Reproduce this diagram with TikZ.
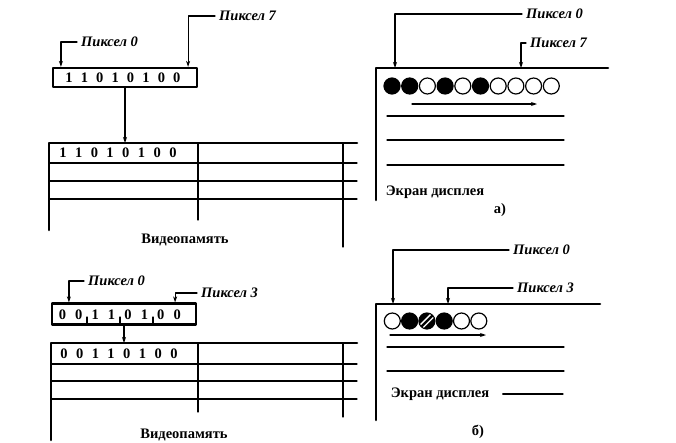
\documentclass[tikz,border=0pt]{standalone}
\usepackage{fontspec}
\setmainfont{Liberation Serif}
\usetikzlibrary{arrows.meta}

\begin{document}
\begin{tikzpicture}[x=1pt, y=-1pt, line cap=round, line join=round, >={Stealth[length=6pt,width=4pt]},
  lbl/.style={font=\fontsize{14.5}{16}\selectfont\bfseries\itshape, inner sep=4pt, anchor=west},
  bit/.style={font=\fontsize{14.5}{16}\selectfont\bfseries, inner sep=0pt},
  regbox/.style={draw, line width=2.2pt, minimum width=144pt, minimum height=19pt, inner sep=0pt},
  wall/.style={line width=2.6pt},
  rule/.style={line width=1.2pt},
  caption/.style={font=\fontsize{14.5}{16}\selectfont\bfseries},
  pix/.style={draw, line width=1.2pt, circle, minimum size=16pt, inner sep=0pt}]
  \useasboundingbox (0,0) rectangle (676,442);

  % a) register byte
  \node[regbox] (rega) at (125,77.5) {};
  \foreach \b [count=\i] in {1,1,0,1,0,1,0,0}
    \node[bit] at ({53.6+15.4*\i},78) {\b};
  \node[lbl] (ra0) at (77,42) {Пиксел 0};
  \node[lbl] (ra7) at (215,16) {Пиксел 7};
  \draw[->, rule] (ra0.west) -| ([xshift=9pt]rega.north west);
  \draw[->, rule] (ra7.west) -| ([xshift=-10pt]rega.north east);

  % a) video memory
  \coordinate (mema) at (49,143);
  \draw[->, rule] (rega.south) -- (rega.south |- mema);
  \draw[wall] (49,230) -- (mema) -- (357,143);
  \draw[rule] (49,163) -- (357,163) (49,181) -- (357,181) (49,199) -- (357,199);
  \draw[rule] (198,143) -- (198,220) (343,143) -- (343,247);
  \foreach \b [count=\i] in {1,1,0,1,0,1,0,0}
    \node[bit] at ({47.3+15.7*\i},153) {\b};
  \node[caption] (capma) at (185,240) {Видеопамять};

  % a) display
  \coordinate (scra) at (376,68);
  \draw[wall] (376,200) -- (scra) -- (608,68);
  \foreach \f [count=\i] in {black,black,white,black,white,black,white,white,white,white}
    \node[pix, fill=\f] at ({374.3+17.7*\i},86) {};
  \draw[->, rule] (412,104) -- (537,104);
  \draw[rule] (387,116) -- (564,116) (387,140) -- (564,140) (387,165) -- (564,165);
  \node[lbl] (sa0) at (522,14) {Пиксел 0};
  \node[lbl] (sa7) at (526,43) {Пиксел 7};
  \draw[->, rule] (sa0.west) -| (scra -| 395,0);
  \draw[->, rule] (sa7.west) -| (scra -| 521,0);
  \node[caption] (capsa) at (435,192) {Экран дисплея};
  \node[caption] (taga) at (500,210) {а)};

  % b) register byte, 2 bits per pixel
  \node[regbox, minimum height=21pt] (regb) at (124,314) {};
  \foreach \b [count=\i] in {0,0,1,1,0,1,0,0}
    \node[bit] at ({46+16.4*\i},315) {\b};
  \foreach \t in {87,120,153}
    \draw[rule] (\t,323.5) -- (\t,317);
  \node[lbl] (rb0) at (84,281) {Пиксел 0};
  \node[lbl] (rb3) at (197,293) {Пиксел 3};
  \draw[->, rule] (rb0.west) -| ([xshift=18pt]regb.north west);
  \draw[->, rule] (rb3.west) -| ([xshift=-22pt]regb.north east);

  % b) video memory
  \coordinate (memb) at (51,343);
  \draw[->, rule] (regb.south) -- (regb.south |- memb);
  \draw[wall] (51,440) -- (memb) -- (357,343);
  \draw[rule] (51,364) -- (357,364) (51,381) -- (357,381) (51,399) -- (357,399);
  \draw[rule] (198,343) -- (198,412) (343,343) -- (343,417);
  \foreach \b [count=\i] in {0,0,1,1,0,1,0,0}
    \node[bit] at ({48.3+15.7*\i},354) {\b};
  \node[caption] (capmb) at (184,435) {Видеопамять};

  % b) display
  \coordinate (scrb) at (376,304);
  \draw[wall] (376,420) -- (scrb) -- (600,304);
  \foreach \f [count=\i] in {white,black,black,black,white,white}
    \node[pix, fill=\f] (pb\i) at ({375+17.3*\i},321) {};
  \begin{scope}
    \clip (pb3.center) circle (7.4pt);
    \foreach \d in {-2.8,2.8}
      \draw[white, line width=1.3pt] ([shift={(\d-7,7)}]pb3.center) -- ([shift={(\d+7,-7)}]pb3.center);
  \end{scope}
  \draw[->, rule] (390,335) -- (486,335);
  \draw[rule] (387,347) -- (564,347) (387,371) -- (564,371);
  \node[lbl] (sb0) at (509,250) {Пиксел 0};
  \node[lbl] (sb3) at (513,288) {Пиксел 3};
  \draw[->, rule] (sb0.west) -| (scrb -| 393,0);
  \draw[->, rule] (sb3.west) -| (scrb -| 448,0);
  \node[caption] (capsb) at (440,394) {Экран дисплея};
  \draw[rule] ([xshift=10pt]capsb.east) -- (563,394);
  \node[caption] (tagb) at (478,432) {б)};
\end{tikzpicture}
\end{document}
